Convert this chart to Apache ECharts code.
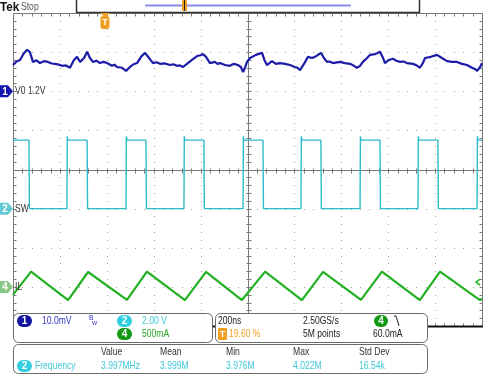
<!DOCTYPE html>
<html><head><meta charset="utf-8">
<script src="https://cdn.jsdelivr.net/npm/echarts@6/dist/echarts.min.js"></script>
<style>html,body{margin:0;padding:0;background:#fff}#c{width:500px;height:375px}</style>
</head><body><div id="c"></div>
<script>
// ---- data (time in ns from left of screen, 200 ns/div) ----
// CH1 VO : mV above 1.2 V offset (10 mV/div)
const voTrace = [[0,6.7],[15,7.6],[30,8.0],[45,9.6],[60,10.6],[72,10.0],[85,7.5],[100,7.9],[115,7.2],[132,7.7],[149,7.5],[165,7.1],[179,7.0],[195,6.8],[209,6.5],[226,6.6],[243,6.0],[260,8.0],[273,8.8],[286,7.5],[303,8.5],[316,10.1],[328,8.5],[341,7.5],[356,7.8],[371,7.2],[386,7.5],[401,7.2],[422,6.5],[433,6.8],[443,6.2],[465,6.0],[473,5.6],[482,5.2],[499,6.2],[514,6.9],[529,7.2],[546,8.8],[563,9.8],[580,8.5],[597,7.2],[612,7.4],[627,7.0],[648,7.1],[669,6.7],[684,6.9],[699,6.5],[712,6.6],[725,6.2],[746,7.2],[763,8.0],[785,9.0],[800,9.2],[810,9.5],[823,8.8],[840,7.2],[861,7.5],[872,7.0],[883,7.2],[904,6.7],[925,6.5],[942,7.0],[959,6.7],[972,6.2],[981,4.9],[989,6.0],[998,7.5],[1011,8.5],[1036,9.3],[1062,9.8],[1072,8.0],[1083,6.7],[1104,7.7],[1121,7.0],[1138,7.2],[1160,7.0],[1181,6.7],[1202,6.2],[1213,6.0],[1224,5.4],[1241,7.0],[1258,8.8],[1275,8.5],[1288,8.8],[1313,9.8],[1326,8.5],[1339,7.5],[1350,7.6],[1364,7.2],[1394,7.5],[1416,7.2],[1437,7.0],[1454,6.5],[1467,6.0],[1480,6.5],[1492,7.5],[1510,8.5],[1522,9.3],[1544,9.5],[1555,9.8],[1565,10.1],[1578,8.5],[1586,7.2],[1603,8.0],[1620,8.3],[1635,7.8],[1650,7.5],[1665,7.6],[1680,7.2],[1706,7.0],[1722,6.6],[1735,6.0],[1748,7.2],[1757,8.5],[1782,8.8],[1808,9.3],[1829,8.5],[1851,7.7],[1872,7.5],[1893,7.5],[1915,7.0],[1936,6.7],[1957,6.0],[1970,5.7],[1979,5.2],[1992,6.2],[2000,7.2]];
// CH2 SW : switch node edges (ns) and levels (V), 2 V/div
const swRiseNs = [230,482,729,981,1228,1480,1727,1979];
const swFallNs = [68,316,567,814,1066,1313,1565,1812];
const swHighV = 3.5, swLowV = 0.0, swRingV = 3.7;
// CH4 IL : inductor current (mA), 500 mA/div
const ilPeakNs = [77,320,571,823,1075,1322,1573,1821];
const ilPeakMa = [195,190,195,192,195,192,195,195];
const ilTroughNs = [235,486,733,976,1232,1484,1735,1991];
const ilTroughMa = [-170,-165,-170,-168,-170,-165,-170,-168];
const ilStart = [0,-102], ilEnd = [2000,-150];
// channel reference levels, trigger
const chOffsetDiv = {ch1:2, ch2:-1, ch4:-3};
const triggerTimeNs = 392, triggerLevelMa = 60;
// readouts
const measHeaders = ['Value','Mean','Min','Max','Std Dev'];
const measValues = ['3.997MHz','3.999M','3.976M','4.022M','16.54k'];

// ---- build series data ----
const swData = [];
(function(){
  const ev = [];
  swRiseNs.forEach(t=>ev.push([t,'r']));
  swFallNs.forEach(t=>ev.push([t,'f']));
  ev.sort((a,b)=>a[0]-b[0]);
  let lvl = ev[0][1]==='f' ? swHighV : swLowV;
  swData.push([0,lvl]);
  ev.forEach(([t,k])=>{
    if(k==='r'){ swData.push([t,swLowV],[t+1.5,swRingV],[t+4,swHighV]); }
    else { swData.push([t,swHighV],[t+2,swLowV]); }
  });
  swData.push([2000, ev[ev.length-1][1]==='r'?swHighV:swLowV]);
})();
const ilData = [ilStart];
ilPeakNs.forEach((t,i)=>ilData.push([t,ilPeakMa[i]]));
ilTroughNs.forEach((t,i)=>ilData.push([t,ilTroughMa[i]]));
ilData.push(ilEnd);
ilData.sort((a,b)=>a[0]-b[0]);

const FONT = "'Liberation Sans',Arial,sans-serif";
const SX = 0.78;
const C1='#1c1ca8', C2='#2cbcc8', C4='#22b022', ORG='#f0a020';

function renderGrat(params, api){
  const ch=[]; const P=(x,y)=>api.coord([x,y]);
  const r=v=>Math.round(v)+0.5;
  const dot='#a0a0a0', ln='#7a7a7a';
  for(let i=1;i<10;i++){ if(i===5) continue;
    for(let j=1;j<40;j++){ const p=P(i*200,-4+j*0.2);
      ch.push({type:'rect',shape:{x:Math.round(p[0]),y:Math.round(p[1]),width:1,height:1},style:{fill:dot}});}}
  for(let k=-3;k<=3;k++){ if(k===0) continue;
    for(let i=1;i<50;i++){ const p=P(i*40,k);
      ch.push({type:'rect',shape:{x:Math.round(p[0]),y:Math.round(p[1]),width:1,height:1},style:{fill:dot}});}}
  const L=(x1,y1,x2,y2,c,w)=>ch.push({type:'line',shape:{x1,y1,x2,y2},style:{stroke:c,lineWidth:w||1}});
  const tl=P(0,4), br=P(2000,-4), c0=P(1000,0);
  const X0=r(tl[0]), X1=r(br[0]), Y0=r(tl[1]), Y1=r(br[1]), XC=r(c0[0]), YC=r(c0[1]);
  L(X0,Y0,X1,Y0,ln); L(X0,Y0,X0,Y1,ln); L(X1,Y0,X1,Y1,ln);
  L(X0,YC,X1,YC,ln); L(XC,Y0,XC,Y1,ln);
  for(let i=1;i<50;i++){ const x=r(P(i*40,0)[0]);
    L(x,Y0,x,Y0+3,ln); L(x,Y1,x,Y1-3,ln); L(x,YC-2,x,YC+3,ln); }
  for(let j=1;j<40;j++){ const y=r(P(0,-4+j*0.2)[1]);
    L(X0,y,X0+3,y,ln); L(X1,y,X1-3,y,ln); L(XC-2,y,XC+3,y,ln); }
  L(X0,Y1,X1+0.5,Y1,'#111',2);
  return {type:'group',children:ch};
}

const T=(x,y,text,color,size,opt)=>{opt=opt||{};return {type:'text',x,y,z:110,scaleX:opt.sx||SX,
  style:{text,fill:color||'#222',font:(opt.bold?'bold ':'')+(size||11)+'px '+FONT,textAlign:opt.align||'left',textVerticalAlign:'middle'}};};
const pill=(x,y,w,h,fill,label,tc)=>[
  {type:'rect',z:111,shape:{x,y,width:w,height:h,r:h/2},style:{fill}},
  {type:'text',z:112,x:x+w/2,y:y+h/2+0.5,style:{text:label,fill:tc||'#fff',font:'bold 10px '+FONT,textAlign:'center',textVerticalAlign:'middle'}}];
const box=(x,y,w,h)=>({type:'rect',z:100,shape:{x:x+0.5,y:y+0.5,width:w,height:h,r:5},style:{fill:'#fff',stroke:'#6a6a6a',lineWidth:1}});

const graphics=[
  T(0,7,'Tek','#111',13,{bold:true,sx:0.9}),
  T(21,7,'Stop','#555',11),
  {type:'rect',z:100,shape:{x:76.5,y:-1,width:343,height:13.5},style:{fill:'#fff',stroke:'#333',lineWidth:1.5}},
  {type:'line',z:101,shape:{x1:145,y1:5.5,x2:351,y2:5.5},style:{stroke:'#8a8aee',lineWidth:2}},
  {type:'rect',z:102,shape:{x:182,y:0,width:5,height:11,r:1},style:{fill:ORG}},
  {type:'line',z:103,shape:{x1:184.5,y1:0,x2:184.5,y2:11},style:{stroke:'#222',lineWidth:1}},
  box(13,313,199,29), box(215,313,212,29), box(13,344,414,29),
  ...pill(17,315,15,12,'#1414a0','1'),
  T(42,321,'10.0mV','#3535cc',11),
  T(89,318,'B','#3535cc',7,{sx:1}), T(92,323,'w','#3535cc',7,{sx:1}),
  ...pill(117,315,15,12,'#30cede','2'),
  T(142,321,'2.00 V','#3cc8d6',11),
  ...pill(117,328,15,12,'#119a11','4'),
  T(142,334,'500mA','#26aa26',11),
  T(218,321,'200ns','#222',11),
  {type:'rect',z:110,shape:{x:218,y:328,width:9,height:12,r:1},style:{fill:ORG}},
  T(222.5,334.5,'T','#fff',9,{bold:true,sx:1,align:'center'}),
  T(229,334,'19.60 %',ORG,11),
  T(303,321,'2.50GS/s','#222',11),
  T(303,334,'5M points','#222',11),
  ...pill(374,315,14,12,'#119a11','4'),
  {type:'polyline',z:110,shape:{points:[[394,316],[396,316],[399,326]]},style:{stroke:'#222',lineWidth:1,fill:null}},
  T(373,334,'60.0mA','#222',11),
  ...pill(17,360,15,12,'#30cede','2'),
  T(35,366,'Frequency','#3cc8d6',11)
];
const hx=[101,160,226,293,359];
measHeaders.forEach((h,i)=>graphics.push(T(hx[i],352,h,'#333',11)));
measValues.forEach((v,i)=>graphics.push(T(hx[i],366,v,'#3cc8d6',11)));

const chart=echarts.init(document.getElementById('c'),null,{renderer:'canvas'});
const yr=(off,perDiv)=>({min:(-4-off)*perDiv,max:(4-off)*perDiv,show:false,splitLine:{show:false}});
chart.setOption({
  animation:false,
  grid:{left:13,right:18,top:13,bottom:49,show:false},
  xAxis:{type:'value',min:0,max:2000,show:false,splitLine:{show:false}},
  yAxis:[{min:-4,max:4,show:false,splitLine:{show:false}}, yr(chOffsetDiv.ch1,10), yr(chOffsetDiv.ch2,2), yr(chOffsetDiv.ch4,500)],
  series:[
    {type:'custom',renderItem:renderGrat,data:[[0,0]],xAxisIndex:0,yAxisIndex:0,z:1,silent:true},
    {type:'line',name:'VO',data:voTrace,yAxisIndex:1,showSymbol:false,lineStyle:{color:C1,width:2.2},z:5},
    {type:'line',name:'SW',data:swData,yAxisIndex:2,showSymbol:false,lineStyle:{color:C2,width:1.4},z:4},
    {type:'line',name:'IL',data:ilData,yAxisIndex:3,showSymbol:false,lineStyle:{color:C4,width:2.2},z:4}
  ],
  graphic:graphics
});

// markers placed through the axes
const y1=chart.convertToPixel({yAxisIndex:1},0);
const y2=chart.convertToPixel({yAxisIndex:2},0);
const y4=chart.convertToPixel({yAxisIndex:3},0);
const yT=chart.convertToPixel({yAxisIndex:3},triggerLevelMa);
const xT=chart.convertToPixel({xAxisIndex:0},triggerTimeNs);
const xR=chart.convertToPixel({xAxisIndex:0},2000);
const chMarker=(y,fill,label,name)=>[
  {type:'polygon',z:120,shape:{points:[[0,y-6],[8,y-6],[13,y],[8,y+6],[0,y+6]]},style:{fill}},
  {type:'text',z:121,x:5,y:y+0.5,style:{text:label,fill:'#fff',font:'bold 10px '+FONT,textAlign:'center',textVerticalAlign:'middle'}},
  T(15,y,name,'#333',11)];
const more=graphics.concat(
  chMarker(y1,'#1414b0','1','V0 1.2V'),
  chMarker(y2,'#62c9d3','2','SW'),
  chMarker(y4,'#84c884','4','IL'),
  [
  {type:'polygon',z:120,shape:{points:[[xT-5,13],[xT+5,13],[xT,17]]},style:{fill:ORG}},
  {type:'rect',z:120,shape:{x:xT-4.5,y:16,width:9,height:13,r:3},style:{fill:ORG}},
  {type:'text',z:121,x:xT,y:23,style:{text:'T',fill:'#fff',font:'bold 9px '+FONT,textAlign:'center',textVerticalAlign:'middle'}},
  {type:'polyline',z:120,shape:{points:[[xR-2,yT-3],[xR-6,yT],[xR-2,yT+3]]},style:{stroke:C4,lineWidth:1.5,fill:null}}
  ]);
chart.setOption({graphic:more},{replaceMerge:['graphic']});
</script></body></html>
